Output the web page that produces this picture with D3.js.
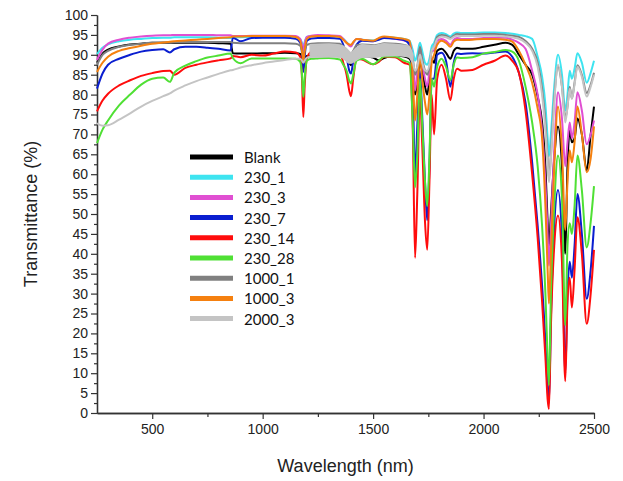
<!DOCTYPE html>
<html>
<head>
<meta charset="utf-8">
<script src="https://cdn.jsdelivr.net/npm/d3@7"></script>
<style>
  body { margin: 0; background: #fff; }
  svg { display: block; }
</style>
</head>
<body>
<div id="wrapper"></div>
<script>
// shared wavelength grid (nm)
const wavelengths = [
  250, 275, 300, 350, 400, 450, 500, 550, 580, 600, 650, 700, 750, 800, 855,
  865, 900, 950, 1000, 1050, 1100, 1150,
  1170, 1178, 1184, 1190, 1200, 1220,
  1250, 1300, 1350,
  1365, 1380, 1392, 1400, 1410, 1425,
  1450, 1500, 1525, 1550, 1600, 1640,
  1665, 1680, 1690, 1700, 1712, 1722, 1735, 1745, 1755, 1765, 1776,
  1790, 1810, 1830, 1850, 1865, 1880, 1900,
  1950, 2000, 2050, 2100, 2130,
  2160, 2190, 2220, 2245, 2265, 2280, 2290, 2296, 2305, 2320,
  2337, 2355, 2370, 2380, 2390, 2400, 2412, 2425, 2445, 2467, 2485, 2500
];

const blank = [
  88, 90.3, 91.3, 92.1, 92.6, 92.8, 93, 93, 93, 93, 93, 93, 93, 92.9, 92.8,
  90.4, 90.3, 90.3, 90.4, 90.4, 90.5, 90.4,
  90.2, 89, 86.5, 88.5, 89.7, 89.8,
  89.8, 89.9, 89.8,
  89.5, 89, 88, 87.4, 88.5, 89.6,
  89.7, 89.3, 88.6, 89.2, 89.8, 89.6,
  89, 86, 80, 83, 88, 86, 82, 80, 84, 89, 88,
  91, 91.5, 90.5, 89, 91, 91.8, 91.5,
  91.5, 92, 92.5, 93, 92.5,
  90, 87.5, 85, 79.5, 73, 62, 48, 42, 50, 64,
  72, 62, 40, 62, 71, 68, 69, 74, 70, 61, 70, 77
];

const s230_1 = [
  90.2, 91.8, 92.6, 93.4, 93.8, 94, 94.2, 94.3, 94.3, 94.4, 94.4, 94.4, 94.4, 94.3, 94.2,
  94.3, 94.4, 94.5, 94.6, 94.6, 94.6, 94.5,
  94, 93, 91.8, 93.2, 94.5, 94.7,
  94.7, 94.7, 94.5,
  94, 93.2, 92.4, 92.2, 93, 94,
  93.8, 93.6, 94, 94.5, 94.3, 94,
  93.5, 91, 88.5, 90, 93, 91, 88, 87.5, 89, 92, 93,
  95, 95.5, 95.2, 94.6, 95.3, 95.6, 95.5,
  95.5, 95.6, 95.6, 95.5, 95.3,
  95, 94.7, 94, 89.5, 84.5, 77.5, 69, 64.5, 70, 82,
  90, 85, 76, 80, 86, 84, 86.5, 90.4, 88, 83, 85.5, 88.5
];

const s230_3 = [
  88.7, 91.3, 92.8, 93.8, 94.3, 94.6, 94.8, 94.9, 94.9, 95, 95, 95, 95, 94.9, 94.9,
  94.7, 94.7, 94.8, 94.8, 94.8, 94.8, 94.7,
  94, 92.5, 91, 92.8, 94.5, 94.8,
  95, 94.9, 94.7,
  94, 93, 92.3, 92.1, 93, 94,
  93.8, 93.4, 94, 94.4, 94, 93.6,
  93, 88, 81, 86, 91.5, 88, 84, 82, 86, 91, 91,
  93.5, 94, 93.5, 92.5, 93.8, 94.2, 94,
  94, 94.2, 94.3, 94.3, 93.8,
  93, 91.5, 86, 80, 71, 58, 45, 37, 47, 66,
  80.6, 74, 62, 68, 73, 69, 73, 80.6, 76, 67.5, 70, 73.5
];

const s230_7 = [
  81.5, 85.3, 87.5, 89, 90, 90.8, 91.2, 91.4, 90.6, 91.4, 92, 92, 91.8, 91.5, 91.1,
  94.3, 93.4, 94.2, 94.3, 94.3, 94.3, 94,
  93, 90.5, 85.7, 89.5, 93.5, 94.1,
  94.2, 94.2, 94,
  92.5, 89.5, 86, 85.3, 88.5, 92.5,
  93.5, 93.4, 93.8, 94.2, 94, 93.7,
  92.5, 80, 60, 72, 86, 75, 58, 48.4, 62, 84, 84,
  90, 90.5, 88.5, 82, 88, 90.3, 90.2,
  90.4, 90.3, 90.6, 90.8, 89.5,
  85.5, 78, 63, 47, 32, 18, 6, 2.5, 24, 47,
  56, 44, 10, 30, 38, 34, 42, 55, 45, 28.7, 36, 47
];

const s230_14 = [
  75.8, 78.5, 80.2, 82.3, 83.6, 84.7, 85.4, 85.9, 86, 85, 86.7, 87.5, 88.1, 88.6, 89.1,
  89.7, 89.4, 90, 89.8, 90.3, 90.8, 90.6,
  89.5, 84, 74.4, 82, 89, 90.8,
  91.3, 91.4, 90.6,
  88, 85, 81, 79.6, 84, 89,
  88.8, 87.6, 88.2, 89.5, 89.4, 88,
  87.5, 70, 39, 55, 80, 68, 48, 41, 58, 80, 70,
  84, 87.5, 84, 78.6, 84, 86.5, 86,
  86.2, 87.5, 88.5, 89.8, 88.5,
  85.5, 76, 60, 44, 28, 14, 3.5, 1, 22, 42,
  49.6, 38, 8, 28, 34, 26.5, 36, 49.2, 40, 22.4, 30, 41
];

const s230_28 = [
  67.8, 71.2, 73.5, 77.3, 80, 82.5, 84, 84.3, 83.2, 85.5, 87.3, 88.4, 89.3, 89.8, 90.3,
  89.2, 87.9, 89.1, 89.1, 89.1, 89.1, 89,
  88.2, 85, 79.4, 84, 88.5, 89,
  89.1, 89.2, 88.8,
  87.5, 86, 83.5, 82.8, 85, 88.5,
  89, 87.6, 88.5, 89.6, 89.6, 88.5,
  88, 72, 56.7, 65, 84, 73, 58, 52, 64, 84, 82,
  87, 89, 87, 83.6, 87.5, 89.3, 89.2,
  89.4, 90.3, 90.7, 91.2, 90.8,
  88.5, 82, 73, 62, 47, 30, 14, 7, 30, 52,
  64.7, 54, 22, 42, 47.7, 45, 52, 64.7, 56, 41.6, 48, 57
];

const s1000_1 = [
  87.5, 90, 91, 92, 92.5, 92.8, 93, 93.1, 93.1, 93.2, 93.2, 93.2, 93.2, 93.2, 93.2,
  93, 92.9, 92.9, 92.9, 92.9, 92.9, 92.8,
  92.3, 91, 89.5, 91, 92.5, 92.8,
  92.9, 92.9, 92.8,
  92, 91, 90.3, 90.2, 91, 92.4,
  92.6, 92.4, 92.6, 92.9, 92.8, 92.5,
  92, 89, 85, 87, 92, 89, 86, 85, 87, 91, 92,
  94.5, 95, 94.8, 94.2, 94.8, 95.2, 95.1,
  95.1, 95.2, 95.2, 95, 94.8,
  94.5, 93.5, 91.5, 88, 81.5, 73, 64, 59, 65, 79,
  87, 82, 74, 77, 82, 79, 83, 87.4, 85, 80.4, 82.5, 85.5
];

const s1000_3 = [
  85.7, 88, 89.5, 91, 91.7, 92.3, 92.8, 93.1, 93.3, 93.4, 93.6, 93.8, 94, 94.2, 94.4,
  94.6, 94.6, 94.7, 94.7, 94.7, 94.7, 94.5,
  93.5, 91, 88.2, 91, 94, 94.6,
  94.7, 94.7, 94.5,
  93.8, 93, 92.6, 92.5, 93.2, 94,
  93.8, 93.5, 94.2, 94.6, 94.3, 94,
  93.5, 84, 73.5, 80, 90, 84, 78, 75, 80, 88, 90,
  92.5, 93.5, 93, 92, 93.3, 93.8, 93.7,
  93.8, 94, 94, 93.8, 93.3,
  91, 87.5, 83, 76.5, 69, 52, 36, 27.5, 40, 62,
  77, 66, 46, 58, 66, 63, 68, 77, 70, 60.5, 64, 72
];

const s2000_3 = [
  72.8, 72.2, 72.3, 73.7, 75.3, 77, 78.4, 79.6, 80.3, 81, 82.3, 83.4, 84.3, 85.2, 86.1,
  86.2, 86.8, 87.4, 87.9, 88.3, 88.7, 89,
  89, 88.5, 88, 88.5, 89.3, 89.5,
  89.5, 89.6, 89.6,
  89.3, 88.5, 88, 88, 88.5, 89.4,
  89.6, 89.5, 89.6, 89.8, 89.9, 89.8,
  89.5, 88, 86, 87, 90, 88, 86, 86, 87.5, 91, 92,
  94, 94.6, 94.4, 94, 94.5, 94.8, 94.7,
  94.7, 94.8, 94.8, 94.6, 94.4,
  94, 93, 91, 87, 80, 71, 63, 58, 64, 78,
  87.5, 82, 73, 77, 81.5, 79, 82.5, 87, 84.5, 79.5, 82, 85
];

// noisy stretch of the 2000_3 spectrum, drawn as a filled band
const bandWave = [1215, 1300, 1360, 1380, 1400, 1420, 1450, 1500, 1550, 1600, 1660, 1680];
const bandLo = [89.5, 89.6, 89.3, 88.5, 88, 88.5, 89.4, 89.5, 89.8, 89.9, 89.5, 88];
const bandHi = [92.5, 92.7, 92.3, 91.5, 90.5, 91.5, 92.5, 92.3, 92.8, 92.6, 92.2, 90];

const seriesNames = ['Blank', '230_1', '230_3', '230_7', '230_14', '230_28', '1000_1', '1000_3', '2000_3'];
const seriesValues = [blank, s230_1, s230_3, s230_7, s230_14, s230_28, s1000_1, s1000_3, s2000_3];
const seriesColors = ['#000000', '#3ee4f0', '#e04fd2', '#0a1ed0', '#ff0c0c', '#4fe034', '#808080', '#f5800f', '#c4c4c4'];

const xTicks = [500, 1000, 1500, 2000, 2500];
const xMinor = [750, 1250, 1750, 2250];
const yTicks = d3.range(0, 101, 5);
const yMinor = d3.range(2.5, 100, 5);

const W = 623, H = 481;
const FONT = "Arial, 'Liberation Sans', sans-serif";

class SpectraChart {
  constructor() {
    this.svg = d3.select('#wrapper').append('svg')
      .attr('width', W)
      .attr('height', H);
    this.svg.append('rect').attr('width', W).attr('height', H).attr('fill', '#fff');
    this.x = d3.scaleLinear().domain([250, 2500]).range([97, 594]);
    this.y = d3.scaleLinear().domain([0, 100]).range([413, 15]);
  }

  Draw() {
    this.DrawAxes();
    this.DrawLines();
    this.DrawLegend();
  }

  DrawAxes() {
    const x = this.x, y = this.y, svg = this.svg;

    const styleAxis = (g) => {
      g.selectAll('path').attr('stroke', '#333').attr('stroke-width', 1.3);
      g.selectAll('line').attr('stroke', '#333').attr('stroke-width', 1.2);
      g.selectAll('text').attr('font-family', FONT).attr('font-size', 14).attr('fill', '#222');
    };

    svg.append('g')
      .attr('transform', `translate(0,${y(0)})`)
      .call(d3.axisBottom(x).tickValues(xMinor).tickSize(4).tickFormat('').tickSizeOuter(0))
      .call(styleAxis);
    svg.append('g')
      .attr('transform', `translate(0,${y(0)})`)
      .call(d3.axisBottom(x).tickValues(xTicks).tickSize(6).tickPadding(5)
        .tickFormat(d3.format('d')).tickSizeOuter(0))
      .call(styleAxis);

    svg.append('g')
      .attr('transform', `translate(${x(250)},0)`)
      .call(d3.axisLeft(y).tickValues(yMinor).tickSize(3).tickFormat('').tickSizeOuter(0))
      .call(styleAxis);
    svg.append('g')
      .attr('transform', `translate(${x(250)},0)`)
      .call(d3.axisLeft(y).tickValues(yTicks).tickSize(6).tickPadding(3).tickSizeOuter(0))
      .call(styleAxis);

    svg.append('text')
      .attr('transform', `translate(31,${(y(0) + y(100)) / 2}) rotate(-90)`)
      .attr('text-anchor', 'middle')
      .attr('dominant-baseline', 'central')
      .attr('font-family', FONT)
      .attr('font-size', 18)
      .attr('fill', '#222')
      .text('Transmittance (%)');

    svg.append('text')
      .attr('x', (x(250) + x(2500)) / 2)
      .attr('y', 466)
      .attr('text-anchor', 'middle')
      .attr('dominant-baseline', 'central')
      .attr('font-family', FONT)
      .attr('font-size', 18)
      .attr('fill', '#222')
      .text('Wavelength (nm)');
  }

  DrawLines() {
    const x = this.x, y = this.y;
    const line = d3.line()
      .x((d) => x(d[0]))
      .y((d) => y(d[1]))
      .curve(d3.curveMonotoneX);

    const data = seriesValues.map((vals, i) => ({
      name: seriesNames[i],
      color: seriesColors[i],
      pts: wavelengths.map((w, j) => [w, vals[j]])
    }));

    const lines = this.svg.append('g').attr('class', 'lines');
    lines.selectAll('path')
      .data(data)
      .join('path')
      .attr('d', (d) => line(d.pts))
      .attr('fill', 'none')
      .attr('stroke', (d) => d.color)
      .attr('stroke-width', 2)
      .attr('stroke-linejoin', 'round');

    const band = d3.area()
      .x((d) => x(d[0]))
      .y0((d) => y(d[1]))
      .y1((d) => y(d[2]))
      .curve(d3.curveMonotoneX);
    lines.append('path')
      .attr('d', band(bandWave.map((w, j) => [w, bandLo[j], bandHi[j]])))
      .attr('fill', seriesColors[8])
      .attr('stroke', seriesColors[8])
      .attr('stroke-width', 1.5);
  }

  DrawLegend() {
    const leg = this.svg.append('g').attr('class', 'legend');
    const items = leg.selectAll('g')
      .data(seriesNames)
      .join('g')
      .attr('transform', (d, i) => `translate(190,${157 + i * 20.2})`);

    items.append('line')
      .attr('x1', 0)
      .attr('x2', 43)
      .attr('stroke', (d, i) => seriesColors[i])
      .attr('stroke-width', 5);

    items.append('text')
      .attr('x', 54)
      .attr('dominant-baseline', 'central')
      .attr('font-family', "Lato, 'Open Sans', sans-serif")
      .attr('font-size', 15)
      .attr('fill', '#111')
      .text((d) => d);
  }
}

new SpectraChart().Draw();
</script>
</body>
</html>
